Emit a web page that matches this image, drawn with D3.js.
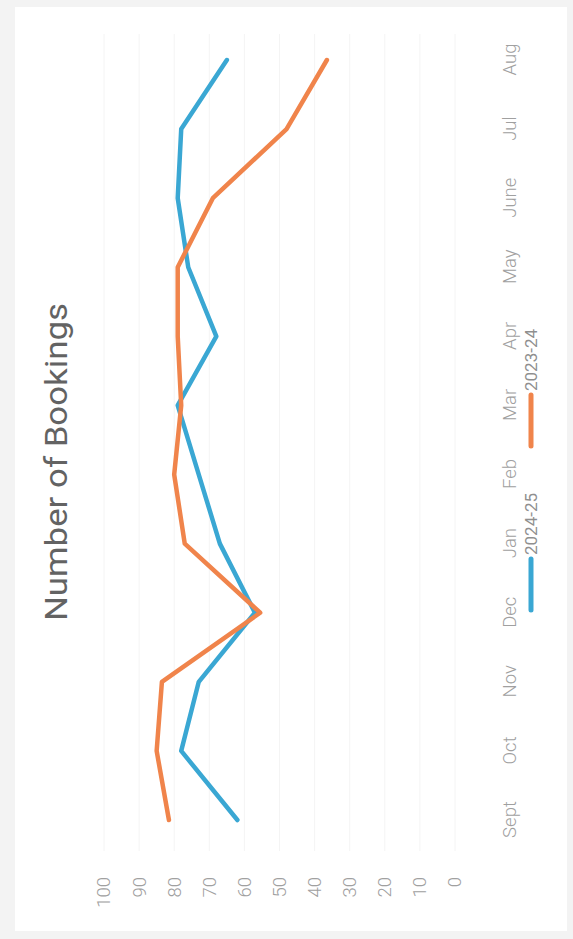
<!DOCTYPE html>
<html>
<head>
<meta charset="utf-8">
<script src="https://cdn.jsdelivr.net/npm/d3@7"></script>
<style>
  html, body { margin: 0; padding: 0; background: #f3f3f3; }
  svg { display: block; }
</style>
</head>
<body>
<svg id="chart" width="573" height="939"></svg>
<script>
const months = ["Sept","Oct","Nov","Dec","Jan","Feb","Mar","Apr","May","June","Jul","Aug"];
const series2425 = [62, 78, 73, 57, 67, 73, 79, 68, 76, 79, 78, 65];
const series2324 = [81.5, 85, 83.5, 55.5, 77, 80, 78, 79, 79, 69, 48, 36.5];
const yTicks = [0, 10, 20, 30, 40, 50, 60, 70, 80, 90, 100];
const seriesNames = ["2024-25", "2023-24"];
const seriesColors = ["#3aa7d3", "#f0844b"];
const titleText = "Number of Bookings";

const W = 939, H = 573;
const svg = d3.select("#chart");
// The whole chart is drawn in landscape, then rotated 90° counter-clockwise
const g = svg.append("g").attr("transform", `translate(0,${W}) rotate(-90)`);

// card
g.append("rect").attr("x", 8).attr("y", 15).attr("width", 924).attr("height", 552)
  .attr("fill", "#ffffff");

const x = d3.scalePoint().domain(months).range([119, 879]);
const y = d3.scaleLinear().domain([0, 100]).range([455, 104]);

// grid
g.append("g").selectAll("line").data(yTicks).join("line")
  .attr("x1", 88).attr("x2", 905)
  .attr("y1", d => y(d)).attr("y2", d => y(d))
  .attr("stroke", "#f4f4f4").attr("stroke-width", 1);

// y axis
const yAxis = g.append("g").attr("transform", "translate(65,0)")
  .call(d3.axisLeft(y).tickValues(yTicks).tickSize(0).tickPadding(3));
yAxis.select(".domain").remove();
yAxis.selectAll("text").attr("font-family", "Roboto, 'Noto Sans', sans-serif")
  .attr("font-size", 18.5).attr("fill", "#a0a0a0").attr("font-weight", 300);

// x axis
const xAxis = g.append("g").attr("transform", "translate(0,497)")
  .call(d3.axisBottom(x).tickSize(0).tickPadding(0));
xAxis.select(".domain").remove();
xAxis.selectAll("text").attr("font-family", "Roboto, 'Noto Sans', sans-serif")
  .attr("font-size", 18.5).attr("fill", "#a0a0a0").attr("font-weight", 300)
  .attr("y", 13).attr("dy", "0.35em");

// title
g.append("text").attr("x", 477).attr("y", 56).attr("dy", "0.35em")
  .attr("text-anchor", "middle")
  .attr("font-family", "Roboto, 'Liberation Sans', sans-serif")
  .attr("font-size", 31).attr("fill", "#636363")
  .attr("textLength", 318).attr("lengthAdjust", "spacingAndGlyphs")
  .text(titleText);

// lines
const line = d3.line().x((d, i) => x(months[i])).y(d => y(d));
[series2425, series2324].forEach((s, k) => {
  g.append("path").datum(s)
    .attr("d", line)
    .attr("fill", "none")
    .attr("stroke", seriesColors[k])
    .attr("stroke-width", 4.5)
    .attr("stroke-linejoin", "round")
    .attr("stroke-linecap", "round");
});

// legend
const legendItems = [
  { name: seriesNames[0], color: seriesColors[0], x0: 329, x1: 380, tx: 384 },
  { name: seriesNames[1], color: seriesColors[1], x0: 493, x1: 544, tx: 548 }
];
const lg = g.append("g");
legendItems.forEach(it => {
  lg.append("line").attr("x1", it.x0).attr("x2", it.x1).attr("y1", 531).attr("y2", 531)
    .attr("stroke", it.color).attr("stroke-width", 5).attr("stroke-linecap", "round");
  lg.append("text").attr("x", it.tx).attr("y", 531).attr("dy", "0.35em")
    .attr("font-family", "Roboto, 'Noto Sans', sans-serif")
    .attr("font-size", 17).attr("fill", "#8f8f8f")
    .text(it.name);
});
</script>
</body>
</html>
